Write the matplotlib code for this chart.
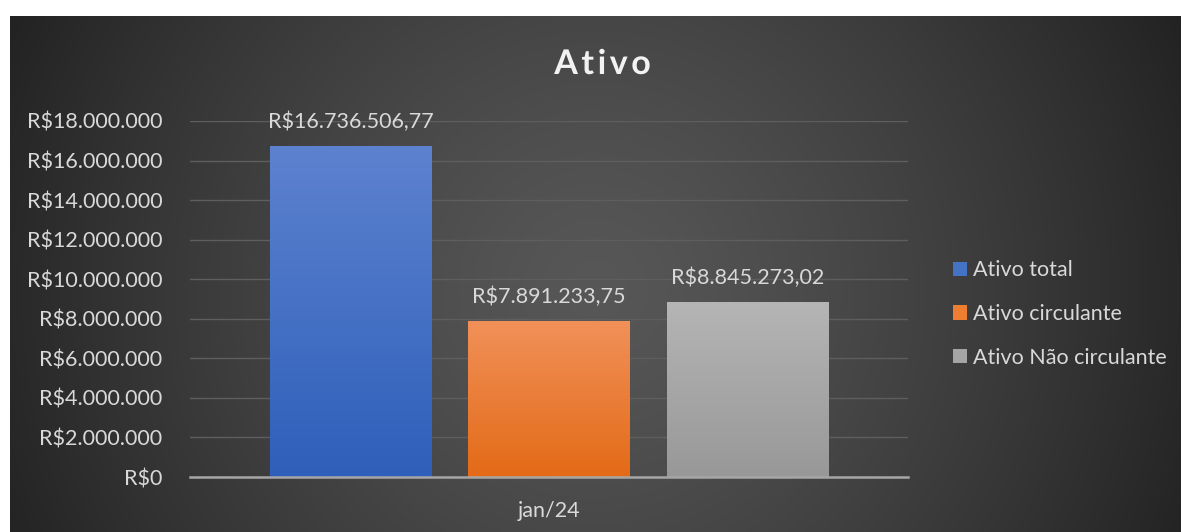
import numpy as np
import matplotlib
matplotlib.use('Agg')
import matplotlib.pyplot as plt
from matplotlib.colors import LinearSegmentedColormap
from matplotlib.patches import Patch
import matplotlib.patheffects as pe

plt.rcParams['font.family'] = ['Lato', 'DejaVu Sans']

categories = ['jan/24']
series = ['Ativo total', 'Ativo circulante', 'Ativo Não circulante']
values = [16736506.77, 7891233.75, 8845273.02]
value_labels = ['R$16.736.506,77', 'R$7.891.233,75', 'R$8.845.273,02']
yticks = [0, 2000000, 4000000, 6000000, 8000000, 10000000, 12000000, 14000000, 16000000, 18000000]
ytick_labels = ['R$0', 'R$2.000.000', 'R$4.000.000', 'R$6.000.000', 'R$8.000.000',
                'R$10.000.000', 'R$12.000.000', 'R$14.000.000', 'R$16.000.000', 'R$18.000.000']
title = 'Ativo'

top_colors = ['#5d82cf', '#f19159', '#b5b5b5']
bottom_colors = ['#2e5fba', '#e36a17', '#989898']
legend_colors = ['#4472c4', '#ed7d31', '#a5a5a5']

FS = 15.5
TXT = '#d9d9d9'

W, H = 1181, 532
fig = plt.figure(figsize=(W / 100, H / 100), dpi=100, facecolor='white')

# background radial gradient
bg = fig.add_axes([10 / W, 0, (W - 10) / W, (H - 16) / H])
bg.set_axis_off()
yy, xx = np.mgrid[16:H, 10:W]
r = np.sqrt((xx - 595.0) ** 2 + ((yy - 290.0) * 1.0) ** 2) / 660.0
r = np.clip(r, 0, 1)
shade = 0x57 - (0x57 - 0x21) * r ** 1.3
img = np.dstack([shade, shade, shade]) / 255.0
bg.imshow(img, aspect='auto', extent=[0, 1, 0, 1], origin='upper')
bg.set_xlim(0, 1)
bg.set_ylim(0, 1)

ax = fig.add_axes([190 / W, (H - 477) / H, 718 / W, 356 / H])
ax.set_facecolor('none')
x = np.array([-1.0, 0.0, 1.0])
width = 0.814
bars = ax.bar(x, values, width=width, color=legend_colors, zorder=3)
for b, tc, bc in zip(bars, top_colors, bottom_colors):
    cmap = LinearSegmentedColormap.from_list('g', [bc, tc])
    grad = np.linspace(0, 1, 256).reshape(-1, 1)
    x0, y0 = b.get_x(), b.get_y()
    im = ax.imshow(grad, cmap=cmap, aspect='auto', origin='lower',
                   extent=[x0, x0 + b.get_width(), y0, y0 + b.get_height()], zorder=4)
    im.set_clip_path(b)

for xi, v, lab in zip(x, values, value_labels):
    ax.annotate(lab, (xi, v), xytext=(0, 10), textcoords='offset points',
                ha='center', va='bottom', color=TXT, fontsize=FS, zorder=5)

ax.set_xlim(-1.81, 1.81)
ax.set_ylim(0, 18000000)
ax.set_yticks(yticks)
ax.set_yticklabels(ytick_labels)
ax.set_xticks([0])
ax.set_xticklabels(categories)
ax.tick_params(axis='y', length=0, pad=20, labelcolor=TXT, labelsize=FS)
ax.tick_params(axis='x', length=0, pad=17, labelcolor=TXT, labelsize=FS)
ax.grid(axis='y', color='#5e5e5e', linewidth=1.0, zorder=0)
for s in ['top', 'right', 'left']:
    ax.spines[s].set_visible(False)
ax.spines['bottom'].set_color('#a6a6a6')
ax.spines['bottom'].set_linewidth(1.8)
ax.spines['bottom'].set_zorder(6)
ax.set_axisbelow(True)

# title with letter spacing
renderer = fig.canvas.get_renderer()
spacing_px = 3.5
tfs = 24.5
widths = []
tmp = []
for ch in title:
    t = fig.text(0, 0, ch, fontsize=tfs, fontweight='bold')
    widths.append(t.get_window_extent(renderer).width)
    tmp.append(t)
for t in tmp:
    t.remove()
total = sum(widths) + spacing_px * (len(title) - 1)
xstart = 602.5 - total / 2
cx = xstart
for ch, w in zip(title, widths):
    fig.text(cx / W, 1 - 64 / H, ch, ha='left', va='center', color='#f2f2f2',
             fontsize=tfs, fontweight='bold',
             path_effects=[pe.SimpleLineShadow(offset=(1, -1.5), shadow_color='black', alpha=0.3, linewidth=0), pe.Normal()])
    cx += w + spacing_px

handles = [Patch(facecolor=c, edgecolor='none') for c in legend_colors]
leg = fig.legend(handles, series, loc='center left', bbox_to_anchor=(944 / W, 1 - 314 / H),
                 frameon=False, fontsize=FS, labelcolor=TXT, handlelength=0.65,
                 handleheight=0.65, handletextpad=0.3, labelspacing=1.1, borderaxespad=0)

fig.savefig('out.png', dpi=100, facecolor='white')
